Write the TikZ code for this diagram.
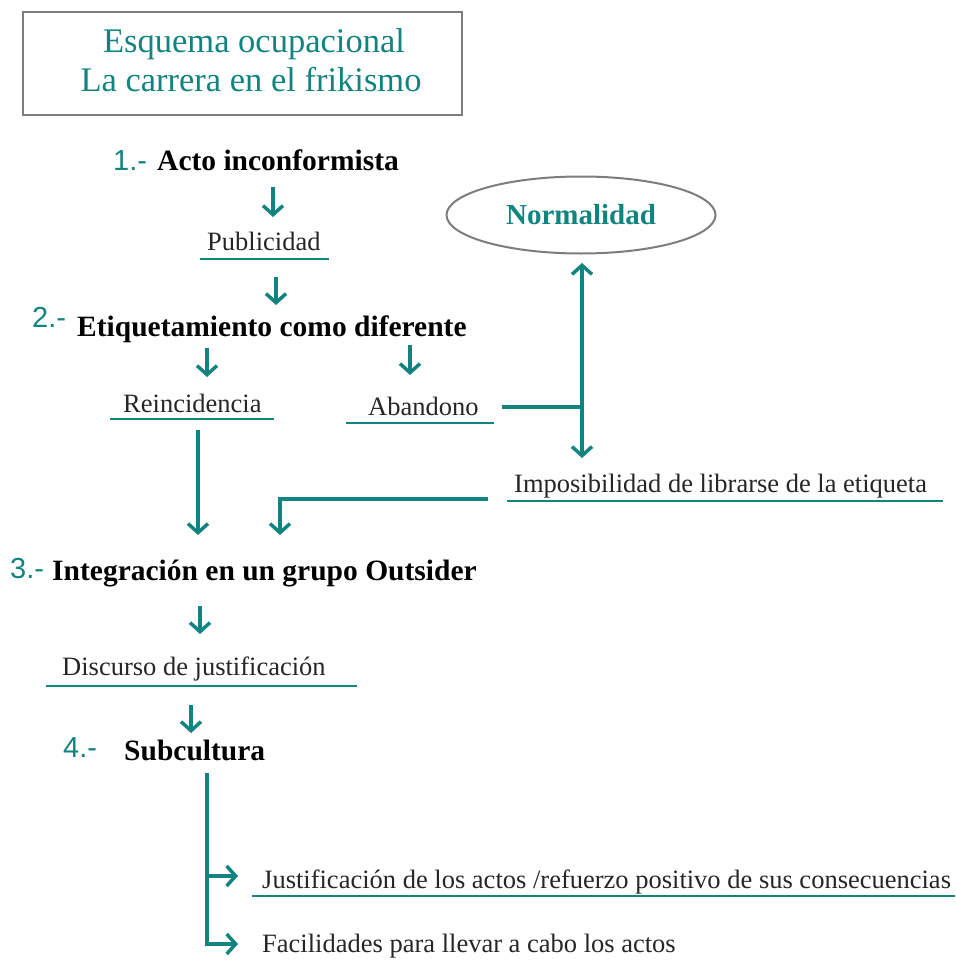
\documentclass[tikz,border=0pt]{standalone}
\usepackage{fontspec}
\setmainfont{Liberation Serif}
\newfontfamily\numfont{Liberation Sans}
\usetikzlibrary{arrows.meta,shapes.geometric}
\definecolor{tealc}{RGB}{18,132,128}
\definecolor{grayb}{RGB}{125,125,125}
\begin{document}
\begin{tikzpicture}[x=1pt,y=-1pt,
  txt/.style={anchor=base west,inner sep=0pt,text=black!85,font=\fontsize{26.5}{30}\selectfont},
  bld/.style={anchor=base west,inner sep=0pt,text=black,font=\fontsize{29.5}{33}\selectfont\bfseries},
  num/.style={anchor=base west,inner sep=0pt,text=tealc,font=\fontsize{29}{32}\numfont},
  ttl/.style={anchor=base,inner sep=0pt,text=tealc,font=\fontsize{34.5}{40}\selectfont},
  uline/.style={draw=tealc,line width=2.5pt},
  conn/.style={draw=tealc,line width=3.5pt},
  arr/.style={draw=tealc,line width=3.5pt,-{Straight Barb[length=9pt,width=20pt]}}]
\useasboundingbox (0,0) rectangle (955,963);
\fill[white] (0,0) rectangle (955,963);

% title
\node[draw=grayb,line width=2.5pt,minimum width=439pt,minimum height=103pt,inner sep=0pt] (title) at (242.5,63.5) {};
\node[ttl] (t1) at (254,53) {Esquema ocupacional};
\node[ttl] (t2) at (251,92) {La carrera en el frikismo};

% step 1
\node[num] (n1) at (113,170) {1.-};
\node[bld] (acto) at (157,170) {Acto inconformista};
\coordinate (a1s) at (273,187); \coordinate (a1e) at (273,217);
\draw[arr] (a1s) -- (a1e);

\node[txt] (pub) at (207,250) {Publicidad};
\coordinate (pu1) at (200,259); \coordinate (pu2) at (329,259);
\draw[uline] (pu1) -- (pu2);
\coordinate (a2s) at (276,277); \coordinate (a2e) at (276,305);
\draw[arr] (a2s) -- (a2e);

% step 2
\node[num] (n2) at (32,327) {2.-};
\node[bld] (etiq) at (77,336) {Etiquetamiento como diferente};
\coordinate (a3s) at (207,348); \coordinate (a3e) at (207,377);
\draw[arr] (a3s) -- (a3e);
\coordinate (a4s) at (410,345); \coordinate (a4e) at (410,375);
\draw[arr] (a4s) -- (a4e);

\node[txt] (rein) at (123,412) {Reincidencia};
\coordinate (ru1) at (110,419); \coordinate (ru2) at (274,419);
\draw[uline] (ru1) -- (ru2);

\node[txt] (aban) at (368,415) {Abandono};
\coordinate (au1) at (346,423); \coordinate (au2) at (494,423);
\draw[uline] (au1) -- (au2);

% Normalidad
\node[ellipse,draw=grayb,line width=2pt,minimum width=269pt,minimum height=77pt,inner sep=0pt,
      text=tealc,font=\fontsize{29}{33}\selectfont\bfseries] (norm) at (581,215) {Normalidad};

\coordinate (abs) at (502,407); \coordinate (junc) at (582,407);
\coordinate (ntip) at (582,263); \coordinate (itip) at (582,458);
\draw[conn] (abs) -- (junc);
\draw[arr] (junc) -- (ntip);
\draw[arr] (junc) -- (itip);

\node[txt] (impo) at (514,492) {Imposibilidad de librarse de la etiqueta};
\coordinate (iu1) at (507,501); \coordinate (iu2) at (943,501);
\draw[uline] (iu1) -- (iu2);

\coordinate (ib) at (488,499); \coordinate (ie) at (280,535);
\draw[arr] (ib) -| (ie);
\coordinate (rs) at (198,430); \coordinate (re) at (198,535);
\draw[arr] (rs) -- (re);

% step 3
\node[num] (n3) at (10,578) {3.-};
\node[bld] (integ) at (52,580) {Integración en un grupo Outsider};
\coordinate (a5s) at (200,606); \coordinate (a5e) at (200,634);
\draw[arr] (a5s) -- (a5e);

\node[txt] (disc) at (62,675) {Discurso de justificación};
\coordinate (du1) at (46,686); \coordinate (du2) at (357,686);
\draw[uline] (du1) -- (du2);
\coordinate (a6s) at (191,705); \coordinate (a6e) at (191,733);
\draw[arr] (a6s) -- (a6e);

% step 4
\node[num] (n4) at (63,757) {4.-};
\node[bld] (subc) at (124,760) {Subcultura};

\coordinate (vtop) at (207,773); \coordinate (b1s) at (207,876);
\coordinate (b1e) at (238,876); \coordinate (b2e) at (238,944);
\draw[arr] (vtop) |- (b2e);
\draw[arr] (b1s) -- (b1e);

\node[txt] (just) at (262,888) {Justificación de los actos /refuerzo positivo de sus consecuencias};
\coordinate (ju1) at (252,896); \coordinate (ju2) at (955,896);
\draw[uline] (ju1) -- (ju2);

\node[txt] (faci) at (262,952) {Facilidades para llevar a cabo los actos};
\end{tikzpicture}
\end{document}
